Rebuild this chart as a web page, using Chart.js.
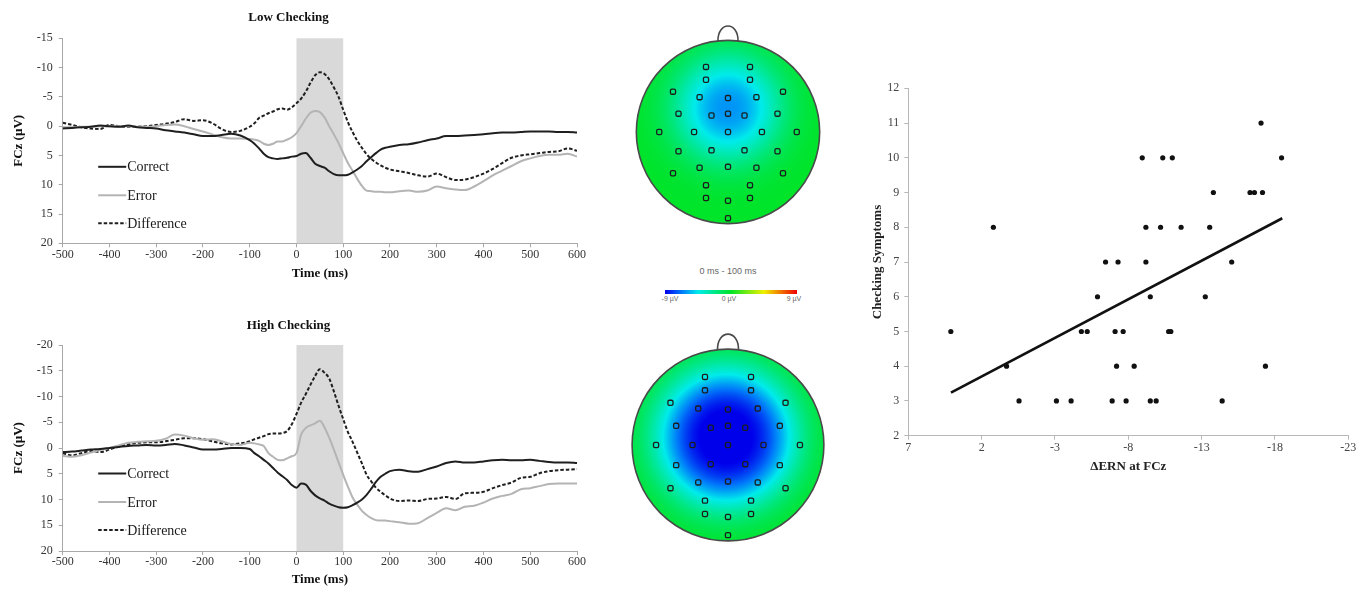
<!DOCTYPE html>
<html>
<head>
<meta charset="utf-8">
<script src="https://cdn.jsdelivr.net/npm/chart.js"></script>
<style>
  body { margin: 0; background: #fff; overflow: hidden; }
  #wrap { position: relative; width: 1369px; height: 599px; }
  canvas { position: absolute; }
  .cb { position: absolute; font-family: "Liberation Sans", Arial, sans-serif; color: #666; white-space: nowrap; transform: translateX(-50%); }
</style>
</head>
<body>
<div id="wrap">
  <canvas id="lowChart" width="600" height="290" style="left:0;top:0"></canvas>
  <canvas id="highChart" width="600" height="299" style="left:0;top:300px"></canvas>
  <canvas id="lowHead" width="220" height="220" style="left:618px;top:22px"></canvas>
  <canvas id="highHead" width="234" height="234" style="left:611px;top:328px"></canvas>
  <canvas id="scatterChart" width="519" height="420" style="left:850px;top:60px"></canvas>

  <!-- colour bar for the two maps -->
  <div class="cb" style="left:728px;top:266px;font-size:9px">0 ms - 100 ms</div>
  <div id="cbBar" style="position:absolute;left:665px;top:290px;width:132px;height:4px"></div>
  <div class="cb" style="left:670px;top:295px;font-size:7px">-9 µV</div>
  <div class="cb" style="left:729px;top:295px;font-size:7px">0 µV</div>
  <div class="cb" style="left:794px;top:295px;font-size:7px">9 µV</div>
</div>

<script>
// ---- ERP waveforms (FCz, µV) ----
const timeMs = [
  -500, -480, -460, -440, -420, -400, -380, -360, -340, -320,
  -300, -280, -260, -240, -220, -200, -180, -160, -140, -120,
  -100, -90, -80, -70, -60, -50, -40, -30, -20, -10,
  0, 10, 20, 30, 40, 50, 60, 70, 80, 90,
  100, 110, 120, 130, 140, 150, 160, 170, 180, 190,
  200, 220, 240, 260, 280, 300, 320, 340, 360, 380,
  400, 420, 440, 460, 480, 500, 520, 540, 560, 580,
  600
];

const lowCorrect = [
  0.4, 0.3, 0.2, 0.1, -0.1, 0.0, 0.1, -0.1, 0.2, 0.3,
  0.4, 0.7, 0.9, 1.1, 1.4, 1.7, 1.7, 1.5, 1.3, 1.6,
  2.4, 3.0, 3.8, 4.7, 5.3, 5.5, 5.6, 5.5, 5.4, 5.2,
  5.1, 4.7, 4.6, 5.4, 6.4, 6.8, 7.1, 7.7, 8.2, 8.4,
  8.4, 8.3, 7.9, 7.4, 6.8, 6.0, 5.3, 4.6, 4.0, 3.7,
  3.5, 3.2, 3.1, 2.8, 2.4, 2.1, 1.7, 1.7, 1.6, 1.5,
  1.4, 1.2, 1.1, 1.1, 1.0, 0.9, 0.9, 0.9, 1.0, 1.0,
  1.1
];
const lowError = [
  0.2, 0.2, 0.1, 0.1, 0.0, 0.0, 0.0, 0.0, 0.1, 0.1,
  0.0, -0.2, -0.3, 0.0, 0.5, 0.9, 1.4, 1.9, 2.1, 2.1,
  2.2, 2.3, 2.5, 3.0, 3.2, 3.0, 2.6, 2.6, 2.3, 1.9,
  1.2, 0.0, -1.3, -2.3, -2.6, -2.4, -1.5, 0.0, 1.4, 2.9,
  4.6, 6.3, 7.6, 9.0, 10.2, 11.0, 11.1, 11.2, 11.2, 11.3,
  11.3, 11.1, 11.0, 11.2, 11.0, 10.3, 10.6, 10.8, 10.9, 10.3,
  9.4, 8.4, 7.6, 6.8, 6.0, 5.5, 5.1, 4.9, 4.9, 4.7,
  5.2
];
const lowDiff = [
  -0.6, -0.2, 0.2, 0.4, 0.5, -0.2, 0.0, 0.1, 0.1, 0.0,
  -0.2, -0.4, -0.7, -1.2, -0.9, -1.0, -0.5, 0.5, 1.0, 0.8,
  0.1, -0.5, -1.4, -1.8, -2.2, -2.5, -2.9, -3.0, -2.8, -3.2,
  -3.9, -4.7, -5.9, -7.4, -8.7, -9.2, -8.9, -8.0, -6.6, -5.0,
  -2.8, -0.7, 1.0, 2.5, 3.7, 4.8, 5.6, 6.2, 6.7, 7.1,
  7.4, 7.7, 8.0, 8.4, 8.6, 8.1, 8.7, 9.2, 9.1, 8.7,
  8.1, 7.3, 6.3, 5.4, 5.0, 4.8, 4.6, 4.4, 4.3, 3.8,
  4.2
];

const highCorrect = [
  0.8, 0.7, 0.5, 0.3, 0.2, 0.0, -0.2, -0.4, -0.5, -0.6,
  -0.5, -0.6, -0.8, -0.5, -0.1, 0.3, 0.3, 0.2, 0.0, 0.0,
  0.2, 1.0, 1.6, 2.3, 3.0, 3.9, 4.8, 5.5, 6.2, 7.2,
  7.7, 6.9, 7.1, 8.3, 9.2, 9.8, 10.2, 10.8, 11.2, 11.5,
  11.6, 11.5, 11.1, 10.6, 10.0, 9.1, 7.9, 6.6, 5.6, 5.0,
  4.5, 4.2, 4.5, 4.6, 4.1, 3.6, 2.9, 2.6, 2.8, 2.8,
  2.6, 2.4, 2.3, 2.4, 2.4, 2.3, 2.5, 2.7, 2.8, 2.8,
  2.9
];
const highError = [
  1.5, 1.7, 1.4, 0.9, 0.4, 0.0, -0.5, -1.0, -1.2, -1.3,
  -1.4, -1.8, -2.6, -2.4, -1.9, -1.6, -1.7, -1.3, -0.8, -0.6,
  -1.0, -0.9, -0.7, -0.4, 1.0, 1.7, 2.3, 2.4, 2.0, 1.6,
  1.0, -2.6, -3.9, -4.4, -4.8, -5.3, -4.0, -2.0, 0.3, 2.8,
  5.2, 7.5, 9.6, 11.0, 12.2, 13.0, 13.6, 14.0, 14.1, 14.1,
  14.2, 14.4, 14.7, 14.6, 13.6, 12.6, 11.7, 12.1, 11.4, 11.2,
  10.6, 9.8, 9.3, 8.9, 8.0, 7.8, 7.4, 7.0, 6.9, 6.9,
  6.9
];
const highDiff = [
  1.0, 1.4, 1.0, 0.6, 0.8, 0.3, -0.3, -0.7, -1.0, -1.1,
  -1.1, -1.3, -1.6, -1.9, -1.9, -1.7, -1.3, -0.9, -0.7, -0.9,
  -1.3, -1.7, -2.0, -2.3, -2.7, -2.8, -2.8, -2.9, -3.3, -4.6,
  -6.6, -8.8, -10.5, -12.3, -14.0, -15.3, -14.6, -13.5, -11.0, -8.2,
  -5.6, -3.1, -1.2, 0.9, 3.0, 5.2, 6.5, 7.7, 8.5, 9.2,
  9.8, 10.3, 10.2, 10.3, 9.9, 9.8, 9.5, 9.9, 8.8, 8.7,
  8.5, 7.8, 7.2, 6.7, 5.8, 5.6, 4.9, 4.5, 4.3, 4.2,
  4.1
];

const seriesNames = ['Correct', 'Error', 'Difference'];
const ernWindow = [0, 100];   // shaded 0-100 ms window

// ---- scalp maps: electrode layout (head units) and mean amplitude in the window ----
const electrodeX = [-0.24, 0.24, -0.24, 0.24, -0.6, -0.31, 0, 0.31, 0.6,
  -0.54, -0.18, 0, 0.18, 0.54, -0.75, -0.37, 0, 0.37, 0.75,
  -0.54, -0.18, 0.18, 0.54, -0.6, -0.31, 0, 0.31, 0.6,
  -0.24, 0.24, -0.24, 0, 0.24, 0];
const electrodeY = [0.71, 0.71, 0.57, 0.57, 0.44, 0.38, 0.37, 0.38, 0.44,
  0.2, 0.18, 0.2, 0.18, 0.2, 0, 0, 0, 0, 0,
  -0.21, -0.2, -0.2, -0.21, -0.45, -0.39, -0.38, -0.39, -0.45,
  -0.58, -0.58, -0.72, -0.75, -0.72, -0.94];
const lowPeakUv = -6.2;
const highPeakUv = -9.5;

// ---- scatter: ΔERN vs checking symptoms ----
const ernValues = [4.1, 1.2, 0.3, -0.55, -3.1, -4.1, -4.8, -5.2, -5.9, -6.45,
  -6.9, -7.1, -7.2, -7.3, -7.65, -7.85, -8.4, -8.95, -9.2, -9.2,
  -9.5, -9.5, -9.9, -10.2, -10.35, -10.75, -10.9, -11.0, -11.6, -13.25,
  -13.55, -13.8, -14.4, -15.05, -16.3, -16.6, -17.05, -17.15, -17.35, -18.45];
const checkingScores = [5, 8, 4, 3, 3, 3, 5, 5, 6, 7,
  3, 5, 4, 7, 5, 3, 4, 10, 8, 7,
  6, 3, 3, 8, 10, 5, 5, 10, 8, 6,
  8, 9, 3, 7, 9, 9, 11, 9, 4, 10];
const fitX = [4.09, -18.5];
const fitY = [3.24, 8.26];

const SERIF = '"Liberation Serif", "Times New Roman", serif';

// colour scale -9 .. 9 µV (blue - cyan - green - yellow - red)
const cmapStops = [
  [-9, [0, 0, 235]], [-6.75, [0, 120, 250]], [-4.5, [0, 235, 235]],
  [0, [0, 228, 40]], [4.5, [240, 240, 0]], [9, [240, 0, 0]]
];
function colorFor(v) {
  v = Math.max(-9, Math.min(9, v));
  for (let i = 1; i < cmapStops.length; i++) {
    if (v <= cmapStops[i][0]) {
      const [v0, c0] = cmapStops[i - 1], [v1, c1] = cmapStops[i];
      const f = (v - v0) / (v1 - v0);
      return c0.map((c, k) => Math.round(c + (c1[k] - c) * f));
    }
  }
  return cmapStops[cmapStops.length - 1][1];
}
document.getElementById('cbBar').style.background =
  'linear-gradient(to right,' + cmapStops.map(s => {
    const p = (s[0] + 9) / 18 * 100;
    return 'rgb(' + s[1].join(',') + ') ' + p + '%';
  }).join(',') + ')';

// shaded ERN window
const shadePlugin = {
  id: 'shade',
  beforeDatasetsDraw(chart) {
    const { ctx, chartArea: a, scales: { x } } = chart;
    const x0 = x.getPixelForValue(ernWindow[0]);
    const x1 = x.getPixelForValue(ernWindow[1]);
    ctx.save();
    ctx.fillStyle = '#d9d9d9';
    ctx.fillRect(x0, a.top, x1 - x0, a.bottom - a.top);
    ctx.restore();
  }
};

// legend drawn inside the plot, like the original
const innerLegend = {
  id: 'innerLegend',
  afterDatasetsDraw(chart) {
    const { ctx, chartArea: a } = chart;
    const rows = [128.5, 157, 185];
    chart.data.datasets.forEach((ds, i) => {
      const yy = a.top + rows[i];
      ctx.save();
      ctx.strokeStyle = ds.borderColor;
      ctx.lineWidth = ds.borderWidth;
      ctx.setLineDash(ds.borderDash || []);
      ctx.beginPath();
      ctx.moveTo(a.left + 35.5, yy);
      ctx.lineTo(a.left + 63.5, yy);
      ctx.stroke();
      ctx.setLineDash([]);
      ctx.fillStyle = '#1a1a1a';
      ctx.font = '14px ' + SERIF;
      ctx.textBaseline = 'middle';
      ctx.fillText(ds.label, a.left + 64.5, yy + 1);
      ctx.restore();
    });
  }
};

function makeErp(id, title, series, yMin, yMax, box) {
  const styles = [
    { borderColor: '#1f1f1f', borderWidth: 2 },
    { borderColor: '#b4b4b4', borderWidth: 2 },
    { borderColor: '#1f1f1f', borderWidth: 2, borderDash: [3.5, 2] }
  ];
  new Chart(document.getElementById(id), {
    type: 'line',
    data: {
      datasets: series.map((vals, i) => Object.assign({
        label: seriesNames[i],
        data: timeMs.map((t, k) => ({ x: t, y: vals[k] })),
        pointRadius: 0,
        cubicInterpolationMode: 'monotone',
        fill: false
      }, styles[i]))
    },
    options: {
      responsive: false,
      animation: false,
      layout: { padding: { left: 0, right: 23, top: 0, bottom: box.padBottom } },
      plugins: {
        legend: { display: false },
        tooltip: { enabled: false },
        title: {
          display: true, text: title, color: '#111',
          font: { family: SERIF, size: 13, weight: 'bold' },
          padding: { top: box.titleTop, bottom: box.titleBottom }
        }
      },
      scales: {
        x: {
          type: 'linear', min: -500, max: 600,
          afterFit: s => { s.height = box.xHeight; },
          ticks: { stepSize: 100, padding: 0, color: '#333', font: { family: SERIF, size: 12 } },
          grid: { drawOnChartArea: false, drawTicks: true, tickLength: 4, color: '#a8a8a8' },
          border: { color: '#a8a8a8' },
          title: { display: true, text: 'Time (ms)', color: '#111',
            font: { family: SERIF, size: 13, weight: 'bold' }, padding: { top: 0, bottom: 4 } }
        },
        y: {
          type: 'linear', min: yMin, max: yMax, reverse: true,
          afterFit: s => { s.width = 62.7; },
          ticks: { stepSize: 5, padding: 6, color: '#333', font: { family: SERIF, size: 12 } },
          grid: { drawOnChartArea: false, drawTicks: true, tickLength: 4, color: '#a8a8a8' },
          border: { color: '#a8a8a8' },
          title: { display: true, text: 'FCz (µV)', color: '#111',
            font: { family: SERIF, size: 13, weight: 'bold' }, padding: { top: 11, bottom: 0 } }
        }
      }
    },
    plugins: [shadePlugin, innerLegend]
  });
}

makeErp('lowChart', 'Low Checking', [lowCorrect, lowError, lowDiff], -15, 20,
  { titleTop: 10, titleBottom: 12.7, padBottom: 5, xHeight: 41.7 });
makeErp('highChart', 'High Checking', [highCorrect, highError, highDiff], -20, 20,
  { titleTop: 18.2, titleBottom: 11.2, padBottom: 7.2, xHeight: 40.8 });

// scalp map painted under the electrode markers
const topoPlugin = {
  id: 'topo',
  beforeDatasetsDraw(chart, args, opts) {
    const { ctx, chartArea: a, scales: { x, y } } = chart;
    const w = Math.round(a.right - a.left), h = Math.round(a.bottom - a.top);
    const off = document.createElement('canvas');
    off.width = w; off.height = h;
    const octx = off.getContext('2d');
    const img = octx.createImageData(w, h);
    for (let j = 0; j < h; j++) {
      const vy = y.getValueForPixel(a.top + j + 0.5);
      for (let i = 0; i < w; i++) {
        const vx = x.getValueForPixel(a.left + i + 0.5);
        if (vx * vx + vy * vy > 1.0) continue;
        const d = Math.hypot(vx - opts.cx, vy - opts.cy);
        const v = opts.peak * Math.exp(-Math.LN2 * Math.pow(d / opts.half, opts.power));
        const c = colorFor(v);
        const k = (j * w + i) * 4;
        img.data[k] = c[0]; img.data[k + 1] = c[1]; img.data[k + 2] = c[2]; img.data[k + 3] = 255;
      }
    }
    octx.putImageData(img, 0, 0);
    ctx.drawImage(off, a.left, a.top);

    const px = v => x.getPixelForValue(v), py = v => y.getPixelForValue(v);
    ctx.save();
    ctx.strokeStyle = '#4a4a4a';
    ctx.lineWidth = 1.6;
    ctx.beginPath();
    ctx.arc(px(0), py(0), px(1) - px(0), 0, Math.PI * 2);
    ctx.stroke();
    ctx.beginPath();
    ctx.moveTo(px(-0.11), py(0.994));
    ctx.bezierCurveTo(px(-0.11), py(1.21), px(0.11), py(1.21), px(0.11), py(0.994));
    ctx.stroke();
    ctx.restore();
  }
};

function makeHead(id, peak, shape) {
  new Chart(document.getElementById(id), {
    type: 'scatter',
    data: {
      datasets: [{
        data: electrodeX.map((ex, i) => ({ x: ex, y: electrodeY[i] })),
        pointStyle: 'rectRounded',
        pointRadius: 3,
        borderColor: '#1c1c1c',
        borderWidth: 1.3,
        backgroundColor: 'rgba(0,0,0,0)'
      }]
    },
    options: {
      responsive: false,
      animation: false,
      layout: { padding: 0, autoPadding: false },
      plugins: {
        legend: { display: false },
        tooltip: { enabled: false },
        topo: Object.assign({ peak: peak }, shape)
      },
      scales: {
        x: { type: 'linear', min: -shape.range, max: shape.range, display: false },
        y: { type: 'linear', min: -shape.range, max: shape.range, display: false }
      }
    },
    plugins: [topoPlugin]
  });
}

makeHead('lowHead', lowPeakUv, { range: 1.2, cx: 0, cy: 0.26, half: 0.5, power: 2.4 });
makeHead('highHead', highPeakUv, { range: 1.22, cx: -0.02, cy: 0.08, half: 0.64, power: 3 });

// scatter with regression line
new Chart(document.getElementById('scatterChart'), {
  type: 'scatter',
  data: {
    datasets: [{
      data: ernValues.map((v, i) => ({ x: v, y: checkingScores[i] })),
      pointRadius: 2.6,
      backgroundColor: '#111',
      borderWidth: 0
    }, {
      type: 'line',
      data: fitX.map((v, i) => ({ x: v, y: fitY[i] })),
      borderColor: '#111',
      borderWidth: 2.6,
      pointRadius: 0,
      fill: false
    }]
  },
  options: {
    responsive: false,
    animation: false,
    layout: { padding: { left: 0, right: 20.7, top: 28.3, bottom: 0 } },
    plugins: { legend: { display: false }, tooltip: { enabled: false } },
    scales: {
      x: {
        type: 'linear', min: -23, max: 7, reverse: true,
        afterFit: s => { s.height = 44.3; },
        ticks: { stepSize: 5, padding: 1, color: '#444', font: { family: SERIF, size: 12 } },
        grid: { drawOnChartArea: false, drawTicks: true, tickLength: 4, color: '#b8b8b8' },
        border: { color: '#b8b8b8' },
        title: { display: true, text: 'ΔERN at FCz', color: '#222',
          font: { family: SERIF, size: 13, weight: 'bold' }, padding: { top: 0, bottom: 5.2 } }
      },
      y: {
        type: 'linear', min: 2, max: 12,
        afterFit: s => { s.width = 58.3; },
        ticks: { stepSize: 1, padding: 5, color: '#444', font: { family: SERIF, size: 12 } },
        grid: { drawOnChartArea: false, drawTicks: true, tickLength: 4, color: '#b8b8b8' },
        border: { color: '#b8b8b8' },
        title: { display: true, text: 'Checking Symptoms', color: '#222',
          font: { family: SERIF, size: 13, weight: 'bold' }, padding: { top: 20.2, bottom: 0 } }
      }
    }
  }
});
</script>
</body>
</html>
